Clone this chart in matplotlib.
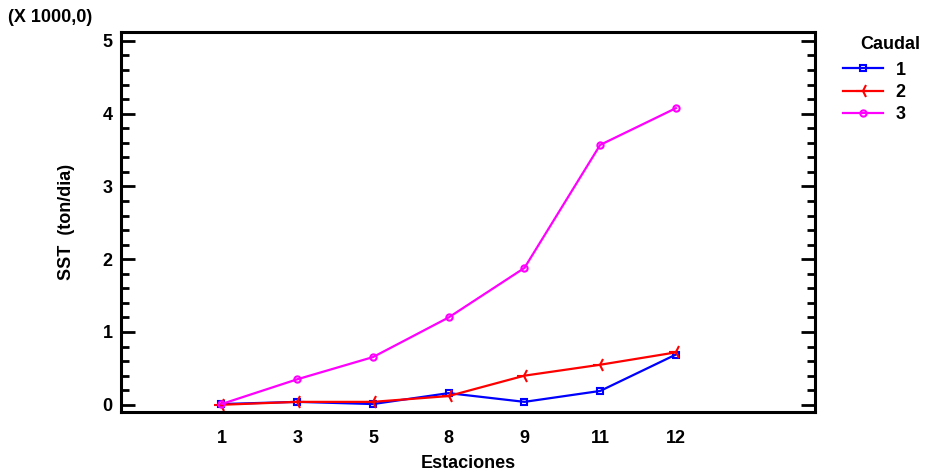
import matplotlib
matplotlib.use("Agg")
import matplotlib.pyplot as plt
from matplotlib.ticker import MultipleLocator

# Data (SST in thousands of ton/dia)
estaciones = ["1", "3", "5", "8", "9", "11", "12"]
caudal_1 = [0.01, 0.04, 0.01, 0.16, 0.04, 0.19, 0.69]
caudal_2 = [0.00, 0.04, 0.04, 0.12, 0.40, 0.55, 0.72]
caudal_3 = [0.01, 0.35, 0.655, 1.20, 1.88, 3.57, 4.075]

plt.rcParams["font.family"] = ["Liberation Sans", "DejaVu Sans"]
plt.rcParams["font.weight"] = "bold"
FS = 13

fig = plt.figure(figsize=(9.36, 4.72), dpi=100)
ax = fig.add_axes([0.129, 0.127, 0.742, 0.805])

x = list(range(len(estaciones)))
ax.plot(x, caudal_1, color="#0000ff", lw=1.6, marker="s", ms=4.5,
        mfc="none", mew=1.5, label="1")
ax.plot(x, caudal_2, color="#ff0000", lw=1.6, marker="3", ms=10,
        mew=1.5, label="2")
ax.plot(x, caudal_3, color="#ff00ff", lw=1.6, marker="o", ms=4.5,
        mfc="none", mew=1.5, label="3")

ax.set_xlim(-1.33, 7.84)
ax.set_ylim(-0.1, 5.12)
ax.set_xticks(x)
ax.set_xticklabels(estaciones)
ax.yaxis.set_major_locator(MultipleLocator(1))
ax.yaxis.set_minor_locator(MultipleLocator(0.2))

for s in ax.spines.values():
    s.set_linewidth(2.2)

ax.tick_params(axis="x", length=0, pad=13, labelsize=FS)
ax.tick_params(axis="y", which="major", direction="in", length=10, width=2,
               left=True, right=True, labelsize=FS, pad=6)
ax.tick_params(axis="y", which="minor", direction="in", length=6, width=2,
               left=True, right=True)

ax.set_xlabel("Estaciones", fontsize=FS, fontweight="bold", labelpad=6)
ax.set_ylabel("SST  (ton/dia)", fontsize=FS, fontweight="bold", labelpad=20)
fig.text(0.009, 0.962, "(X 1000,0)", fontsize=FS, fontweight="bold",
         ha="left", va="center")

# legend title placed separately (it sits to the right of the entries)
fig.text(0.919, 0.906, "Caudal", fontsize=FS, fontweight="bold",
         ha="left", va="center")
ax.legend(loc="upper left",
          bbox_to_anchor=(0.893, 0.885), bbox_transform=fig.transFigure,
          frameon=False, handlelength=2.2, handletextpad=0.7,
          labelspacing=0.3, prop={"size": FS, "weight": "bold"},
          borderaxespad=0)

fig.savefig("out.png", dpi=100)
